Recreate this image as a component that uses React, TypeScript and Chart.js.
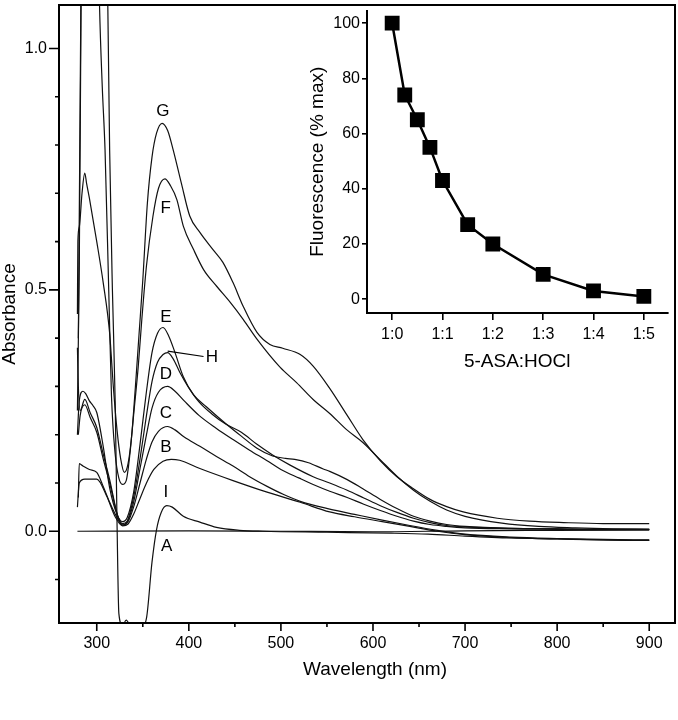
import React, { useEffect, useRef } from 'react';
import { Chart, registerables } from 'chart.js';

Chart.register(...registerables);

const FONT = '"Liberation Sans", Arial, Helvetica, sans-serif';

// ---- Main spectra: [wavelength (nm), absorbance] ----
const curveA: [number, number][] = [
  [279, 0], [400, 0.001], [500, 0], [600, -0.001], [700, 0.001], [800, 0.002], [900, 0.003],
];
const curveB: [number, number][] = [
  [279, 0.05], [281, 0.1], [287, 0.108], [300, 0.108], [311, 0.072], [320, 0.03], [328, 0.011],
  [334, 0.015], [340, 0.035], [347, 0.068], [354, 0.1], [362, 0.128], [372, 0.145], [381, 0.149],
  [390, 0.147], [412, 0.13], [448, 0.105], [485, 0.081], [521, 0.06], [553, 0.04], [580, 0.03],
  [610, 0.02], [640, 0.01], [670, 0.0], [700, -0.007], [750, -0.013], [800, -0.016], [850, -0.018],
  [900, -0.019],
];
const curveC: [number, number][] = [
  [280, 0.07], [281, 0.14], [285, 0.135], [292, 0.128], [300, 0.122], [307, 0.093], [314, 0.06],
  [323, 0.025], [328, 0.013], [334, 0.02], [340, 0.05], [347, 0.1], [354, 0.15], [360, 0.185],
  [367, 0.207], [377, 0.217], [385, 0.21], [395, 0.195], [412, 0.176], [430, 0.155], [448, 0.135],
  [466, 0.113], [485, 0.093], [503, 0.076], [521, 0.062], [553, 0.046], [580, 0.035], [610, 0.023],
  [640, 0.012], [670, 0.002], [700, -0.006], [750, -0.012], [800, -0.015], [850, -0.017], [900, -0.018],
];
const curveD: [number, number][] = [
  [280, 0.2], [282, 0.24], [287, 0.262], [293, 0.235], [300, 0.205], [307, 0.15], [314, 0.1],
  [323, 0.03], [328, 0.016], [333, 0.02], [340, 0.06], [347, 0.13], [354, 0.2], [360, 0.255],
  [367, 0.288], [377, 0.3], [385, 0.29], [395, 0.27], [411, 0.24], [430, 0.213], [448, 0.19],
  [466, 0.168], [485, 0.146], [500, 0.128], [520, 0.11], [535, 0.097], [553, 0.083], [572, 0.07],
  [590, 0.056], [608, 0.043], [626, 0.031], [644, 0.021], [662, 0.014], [680, 0.01], [700, 0.007],
  [750, 0.005], [800, 0.004], [850, 0.003], [900, 0.003],
];
const curveE: [number, number][] = [
  [279, 0.2], [281, 0.27], [285, 0.29], [288, 0.285], [292, 0.27], [296, 0.26], [300, 0.246],
  [307, 0.176], [314, 0.09], [322, 0.035], [328, 0.02], [333, 0.028], [340, 0.08], [347, 0.18],
  [354, 0.29], [360, 0.37], [366, 0.41], [372, 0.422], [378, 0.405], [385, 0.37], [394, 0.32],
  [405, 0.283], [419, 0.258], [437, 0.228], [457, 0.197], [474, 0.172], [491, 0.156], [505, 0.151],
  [515, 0.149], [530, 0.142], [546, 0.129], [553, 0.124], [572, 0.107], [589, 0.088], [608, 0.066],
  [626, 0.047], [644, 0.031], [662, 0.021], [680, 0.014], [700, 0.01], [750, 0.006], [800, 0.005],
  [850, 0.004], [900, 0.004],
];
const curveF: [number, number][] = [
  [280, 0.4], [282, 0.9], [284, 1.4], [288, 2.0], [296, 2.0], [300, 1.4], [303, 1.09], [306, 0.92],
  [309, 0.79], [313, 0.5], [316, 0.28], [320, 0.16], [324, 0.11], [328, 0.097], [332, 0.105],
  [336, 0.16], [340, 0.24], [345, 0.34], [349, 0.44], [354, 0.55], [361, 0.652], [367, 0.71],
  [374, 0.73], [380, 0.716], [387, 0.687], [394, 0.632], [405, 0.584], [416, 0.542], [430, 0.508],
  [445, 0.474], [459, 0.439], [474, 0.398], [499, 0.34], [517, 0.308], [535, 0.273], [553, 0.244],
  [571, 0.211], [589, 0.184], [608, 0.148], [626, 0.114], [644, 0.085], [662, 0.062], [680, 0.044],
  [700, 0.031], [740, 0.017], [780, 0.01], [820, 0.007], [860, 0.005], [900, 0.004],
];
const curveG: [number, number][] = [
  [279, 0.45], [279.5, 0.6], [281, 0.63], [284, 0.7], [287, 0.742], [289, 0.72], [292, 0.69],
  [300, 0.6], [307, 0.515], [314, 0.41], [318, 0.3], [322, 0.21], [326, 0.15], [330, 0.122],
  [334, 0.14], [338, 0.2], [342, 0.3], [346, 0.41], [350, 0.52], [355, 0.68], [360, 0.775],
  [365, 0.825], [371, 0.845], [377, 0.83], [383, 0.79], [392, 0.72], [401, 0.653], [412, 0.619],
  [426, 0.584], [437, 0.557], [448, 0.515], [459, 0.466], [474, 0.412], [488, 0.387], [502, 0.379],
  [521, 0.366], [535, 0.342], [553, 0.296], [572, 0.24], [589, 0.19], [608, 0.146], [626, 0.113],
  [644, 0.088], [662, 0.066], [680, 0.051], [698, 0.04], [735, 0.027], [770, 0.021], [807, 0.018],
  [850, 0.016], [900, 0.016],
];
const curveH: [number, number][] = [
  [279, 0.38], [280, 0.3], [282, 0.25], [287, 0.273], [293, 0.245], [300, 0.215], [307, 0.16],
  [314, 0.107], [323, 0.03], [328, 0.013], [333, 0.02], [340, 0.07], [347, 0.15], [354, 0.24],
  [360, 0.31], [366, 0.35], [372, 0.366], [377, 0.37], [383, 0.357], [390, 0.33], [400, 0.297],
  [411, 0.268], [425, 0.243], [440, 0.222], [457, 0.205], [474, 0.18], [491, 0.158], [510, 0.137],
  [535, 0.113], [553, 0.1], [572, 0.085], [590, 0.069], [608, 0.053], [626, 0.039], [644, 0.027],
  [662, 0.018], [680, 0.012], [700, 0.009], [750, 0.006], [800, 0.005], [850, 0.004], [900, 0.004],
];
const curveI: [number, number][] = [
  [279, 0.25], [281, 0.55], [283, 1.1], [285, 1.6], [290, 2.2], [300, 2.2], [307, 1.6], [312, 1.09],
  [314, 0.79], [317, 0.5], [320, 0.27], [322, 0.02], [324, -0.17], [328, -0.195], [332, -0.184],
  [338, -0.2], [348, -0.2], [354, -0.18], [360, -0.064], [365, 0.004], [370, 0.039], [376, 0.053],
  [382, 0.05], [394, 0.031], [412, 0.019], [430, 0.008], [455, 0.002], [480, 0], [550, -0.002],
  [620, -0.004], [660, -0.006], [700, -0.01], [750, -0.014], [800, -0.016], [850, -0.018], [900, -0.019],
];
const SERIES = [curveA, curveB, curveC, curveD, curveE, curveF, curveG, curveH, curveI];

// Curve letters and their anchor positions (data units)
const LABEL_TEXT = ['G', 'F', 'E', 'H', 'D', 'C', 'B', 'I', 'A'];
const LABEL_NM = [371.7, 375, 375, 425, 375, 375, 375, 375, 376];
const LABEL_ABS = [0.87, 0.669, 0.443, 0.36, 0.325, 0.244, 0.174, 0.081, -0.031];
const H_LEADER_NM = [377, 416];
const H_LEADER_ABS = [0.373, 0.362];

// Main axes ticks
const X_MAJOR = [300, 400, 500, 600, 700, 800, 900];
const X_MINOR = [350, 450, 550, 650, 750, 850];
const Y_MAJOR = [0, 0.5, 1.0];
const Y_MINOR = [-0.1, 0.1, 0.2, 0.3, 0.4, 0.6, 0.7, 0.8, 0.9];

// ---- Inset: fluorescence vs ratio ----
const RATIO_X = [0, 0.25, 0.5, 0.75, 1, 1.5, 2, 3, 4, 5];
const FLUOR = [100, 74, 65, 55, 43, 27, 20, 9, 3, 1];
const RATIO_TICKS = [0, 1, 2, 3, 4, 5];
const RATIO_TICK_LABELS = ['1:0', '1:1', '1:2', '1:3', '1:4', '1:5'];
const FLUOR_TICKS = [0, 20, 40, 60, 80, 100];

const mainPlugin = {
  id: 'mainDecor',
  afterDatasetsDraw(chart: any) {
    const { ctx, scales } = chart;
    const xs = scales.x;
    const ys = scales.y;
    ctx.save();
    ctx.fillStyle = '#000';
    ctx.font = `17px ${FONT}`;
    ctx.textAlign = 'center';
    ctx.textBaseline = 'middle';
    LABEL_TEXT.forEach((t, i) => {
      ctx.fillText(t, xs.getPixelForValue(LABEL_NM[i]), ys.getPixelForValue(LABEL_ABS[i]));
    });
    ctx.strokeStyle = '#000';
    ctx.lineWidth = 1.2;
    ctx.beginPath();
    ctx.moveTo(xs.getPixelForValue(H_LEADER_NM[0]), ys.getPixelForValue(H_LEADER_ABS[0]));
    ctx.lineTo(xs.getPixelForValue(H_LEADER_NM[1]), ys.getPixelForValue(H_LEADER_ABS[1]));
    ctx.stroke();
    ctx.restore();
  },
  afterDraw(chart: any) {
    const { ctx, chartArea, scales } = chart;
    const xs = scales.x;
    const ys = scales.y;
    ctx.save();
    ctx.strokeStyle = '#000';
    ctx.lineWidth = 2;
    ctx.strokeRect(chartArea.left, chartArea.top, chartArea.right - chartArea.left, chartArea.bottom - chartArea.top);
    ctx.lineWidth = 1.6;
    ctx.beginPath();
    const b = chartArea.bottom;
    X_MAJOR.forEach((v) => { const p = xs.getPixelForValue(v); ctx.moveTo(p, b); ctx.lineTo(p, b + 8); });
    X_MINOR.forEach((v) => { const p = xs.getPixelForValue(v); ctx.moveTo(p, b); ctx.lineTo(p, b + 4); });
    const l = chartArea.left;
    Y_MAJOR.forEach((v) => { const p = ys.getPixelForValue(v); ctx.moveTo(l, p); ctx.lineTo(l - 10, p); });
    Y_MINOR.forEach((v) => { const p = ys.getPixelForValue(v); ctx.moveTo(l, p); ctx.lineTo(l - 4, p); });
    ctx.stroke();
    ctx.fillStyle = '#000';
    ctx.font = `19px ${FONT}`;
    ctx.textAlign = 'center';
    ctx.textBaseline = 'middle';
    ctx.fillText('Wavelength (nm)', (chartArea.left + chartArea.right) / 2 + 8, 670);
    ctx.restore();
  },
};

export default function App() {
  const mainRef = useRef<HTMLCanvasElement>(null);
  const insetRef = useRef<HTMLCanvasElement>(null);

  useEffect(() => {
    Chart.defaults.font.family = FONT;
    Chart.defaults.color = '#000';

    const main = new Chart(mainRef.current as HTMLCanvasElement, {
      type: 'line',
      data: {
        datasets: SERIES.map((s) => ({
          data: s.map(([x, y]) => ({ x, y })),
          borderColor: '#111',
          borderWidth: 1.2,
          pointRadius: 0,
          fill: false,
          cubicInterpolationMode: 'monotone' as const,
        })),
      },
      options: {
        responsive: false,
        animation: false,
        events: [],
        layout: { padding: { top: 5, right: 3, left: 0, bottom: 0 } },
        plugins: { legend: { display: false }, tooltip: { enabled: false } },
        scales: {
          x: {
            type: 'linear',
            min: 259,
            max: 928,
            afterBuildTicks: (s: any) => { s.ticks = X_MAJOR.map((v) => ({ value: v })); },
            afterFit: (s: any) => { s.height = 97; s.paddingLeft = 0; s.paddingRight = 0; },
            grid: { display: false, drawTicks: false },
            border: { display: false },
            ticks: {
              font: { size: 16, family: FONT },
              color: '#000',
              padding: 11,
              maxRotation: 0,
              autoSkip: false,
              callback: (v: any) => String(v),
            },
          },
          y: {
            type: 'linear',
            min: -0.19,
            max: 1.09,
            afterBuildTicks: (s: any) => { s.ticks = Y_MAJOR.map((v) => ({ value: v })); },
            afterFit: (s: any) => { s.width = 59; s.paddingTop = 0; s.paddingBottom = 0; },
            grid: { display: false, drawTicks: false },
            border: { display: false },
            ticks: {
              font: { size: 16, family: FONT },
              color: '#000',
              padding: 12,
              autoSkip: false,
              callback: (v: any) => Number(v).toFixed(1),
            },
            title: {
              display: true,
              text: 'Absorbance',
              color: '#000',
              font: { size: 19, family: FONT, lineHeight: 1 },
              padding: { top: 0, bottom: 0 },
            },
          },
        },
      },
      plugins: [mainPlugin],
    } as any);

    const inset = new Chart(insetRef.current as HTMLCanvasElement, {
      type: 'line',
      data: {
        datasets: [
          {
            data: RATIO_X.map((x, i) => ({ x, y: FLUOR[i] })),
            borderColor: '#000',
            backgroundColor: '#000',
            borderWidth: 2.5,
            pointStyle: 'rect',
            pointRadius: 10.5,
            pointBackgroundColor: '#000',
            pointBorderColor: '#000',
            pointBorderWidth: 0,
            tension: 0,
            fill: false,
          },
        ],
      },
      options: {
        responsive: false,
        animation: false,
        events: [],
        layout: { padding: { top: 5, right: 3, left: 0, bottom: 0 } },
        plugins: { legend: { display: false }, tooltip: { enabled: false } },
        scales: {
          x: {
            type: 'linear',
            min: -0.5,
            max: 5.47,
            afterBuildTicks: (s: any) => { s.ticks = RATIO_TICKS.map((v) => ({ value: v })); },
            afterFit: (s: any) => { s.height = 77; s.paddingLeft = 0; s.paddingRight = 0; },
            grid: { drawOnChartArea: false, drawTicks: true, tickLength: 7, color: '#000', lineWidth: 1.6 },
            border: { display: true, color: '#000', width: 2 },
            ticks: {
              font: { size: 16, family: FONT },
              color: '#000',
              padding: 5,
              maxRotation: 0,
              autoSkip: false,
              callback: (v: any) => RATIO_TICK_LABELS[RATIO_TICKS.indexOf(Number(v))] ?? '',
            },
            title: {
              display: true,
              text: '5-ASA:HOCl',
              color: '#000',
              font: { size: 19, family: FONT, lineHeight: 1 },
              padding: { top: 0, bottom: 18.5 },
            },
          },
          y: {
            type: 'linear',
            min: -5,
            max: 104.6,
            afterBuildTicks: (s: any) => { s.ticks = FLUOR_TICKS.map((v) => ({ value: v })); },
            afterFit: (s: any) => { s.width = 77; s.paddingTop = 0; s.paddingBottom = 0; },
            grid: { drawOnChartArea: false, drawTicks: true, tickLength: 5, color: '#000', lineWidth: 1.6 },
            border: { display: true, color: '#000', width: 2 },
            ticks: {
              font: { size: 16, family: FONT },
              color: '#000',
              padding: 2,
              autoSkip: false,
              callback: (v: any) => String(v),
            },
            title: {
              display: true,
              text: 'Fluorescence (% max)',
              color: '#000',
              font: { size: 19, family: FONT, lineHeight: 1 },
              padding: { top: 18, bottom: 0 },
            },
          },
        },
      },
    } as any);

    return () => {
      main.destroy();
      inset.destroy();
    };
  }, []);

  return (
    <div style={{ position: 'absolute', left: 0, top: 0, width: 678, height: 720, background: '#fff' }}>
      <canvas ref={mainRef} width={678} height={720} style={{ position: 'absolute', left: 0, top: 0, display: 'block' }} />
      <canvas ref={insetRef} width={388} height={390} style={{ position: 'absolute', left: 290, top: 0, display: 'block' }} />
    </div>
  );
}
